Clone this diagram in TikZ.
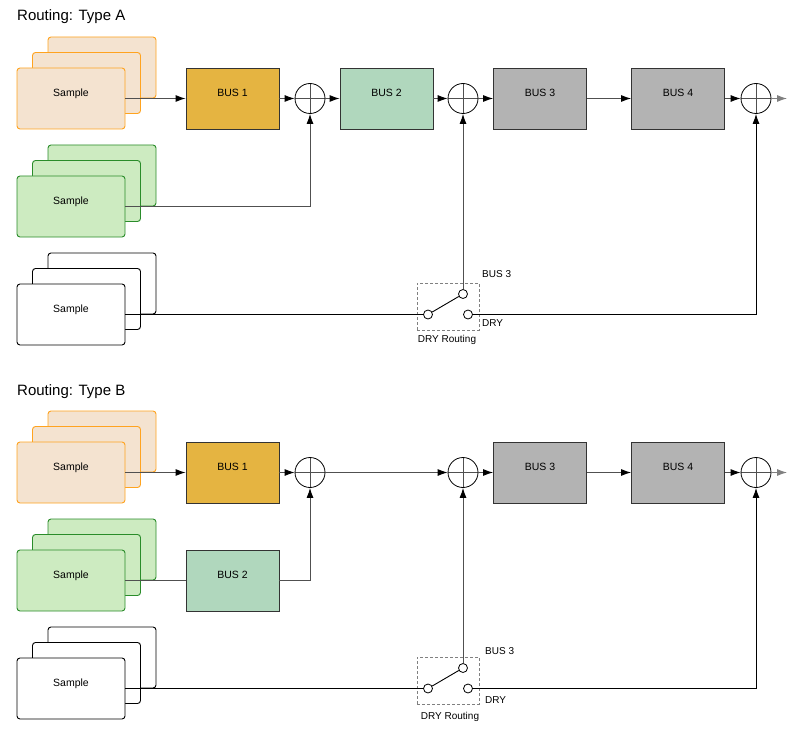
\documentclass[tikz,border=0pt]{standalone}
\usepackage{fontspec}
\setmainfont{Liberation Sans}
\usetikzlibrary{arrows.meta}
\definecolor{orfill}{HTML}{F4E3D0}
\definecolor{ordraw}{HTML}{FFA31F}
\definecolor{grfill}{HTML}{CDEBC1}
\definecolor{grdraw}{HTML}{2A8C2A}
\definecolor{busone}{HTML}{E5B441}
\definecolor{bustwo}{HTML}{B0D7BD}
\definecolor{busgray}{HTML}{B3B3B3}
\definecolor{conn}{HTML}{505050}
\definecolor{bord}{HTML}{333333}
\begin{document}
\begin{tikzpicture}[x=1pt,y=-1pt,
 lbl/.style={font=\fontsize{10.5}{12}\selectfont,text height=8pt,text depth=12pt},
 card/.style={rectangle,rounded corners=3pt,minimum width=108pt,minimum height=61pt,inner sep=0pt,line width=0.9pt,lbl},
 ocard/.style={card,fill=orfill,draw=ordraw},
 gcard/.style={card,fill=grfill,draw=grdraw},
 wcard/.style={card,fill=white,draw=black},
 bus/.style={rectangle,minimum width=93pt,minimum height=61pt,inner sep=0pt,draw=bord,line width=0.9pt,lbl},
 sum/.style={circle,draw=black,minimum size=30pt,inner sep=0pt,line width=0.8pt,
   path picture={\draw[conn,line width=0.6pt] (path picture bounding box.north) -- (path picture bounding box.south) (path picture bounding box.west) -- (path picture bounding box.east);}},
 contact/.style={circle,draw=black,fill=white,minimum size=9pt,inner sep=0pt,line width=0.8pt},
 wire/.style={draw=conn,line width=0.9pt},
 arr/.style={wire,-{Latex[length=10pt,width=7pt,color=black]}},
 outarr/.style={draw=gray,line width=0.9pt,-{Latex[length=10pt,width=7pt]}},
 small/.style={font=\fontsize{10}{12}\selectfont,inner sep=0pt},
 title/.style={font=\fontsize{15}{18}\selectfont,anchor=base west,inner sep=0pt},
 swbox/.style={draw=gray,dashed,dash pattern=on 3pt off 2pt,line width=0.8pt}
]
\useasboundingbox (0,0) rectangle (798,741);

% ================= Type A =================
\node[title] (tA) at (17,21) {Routing: Type A};

\node[ocard] (oA3) at (102,67.5) {};
\node[ocard] (oA2) at (86.5,83) {};
\node[ocard] (oA1) at (71,98.5) {Sample};

\node[gcard] (gA3) at (102,175.5) {};
\node[gcard] (gA2) at (86.5,191) {};
\node[gcard] (gA1) at (71,206.5) {Sample};

\node[wcard] (wA3) at (102,283.5) {};
\node[wcard] (wA2) at (86.5,299) {};
\node[wcard] (wA1) at (71,314.5) {Sample};

\node[bus,fill=busone] (bA1) at (232.5,98.5) {BUS 1};
\node[bus,fill=bustwo] (bA2) at (386.5,98.5) {BUS 2};
\node[bus,fill=busgray] (bA3) at (540,98.5) {BUS 3};
\node[bus,fill=busgray] (bA4) at (678,98.5) {BUS 4};

\node[sum] (sA1) at (310,98.5) {};
\node[sum] (sA2) at (463,98.5) {};
\node[sum] (sA3) at (756,98.5) {};
\coordinate (outA) at (787,98.5);

\node[swbox,minimum width=62pt,minimum height=47pt,inner sep=0pt] (swA) at (448,306.5) {};
\node[contact] (swAL) at (428,314.5) {};
\node[contact] (swAU) at (463,294) {};
\node[contact] (swAD) at (468,314.5) {};
\node[small,anchor=west] (lA1) at (482,274) {BUS 3};
\node[small,anchor=west] (lA2) at (482,323) {DRY};
\node[small] (lA3) at (447,340) {DRY Routing};

\draw[arr] (oA1.east) -- (bA1.west);
\draw[arr] (bA1.east) -- (sA1.west);
\draw[arr] (sA1.east) -- (bA2.west);
\draw[arr] (bA2.east) -- (sA2.west);
\draw[arr] (sA2.east) -- (bA3.west);
\draw[arr] (bA3.east) -- (bA4.west);
\draw[arr] (bA4.east) -- (sA3.west);
\draw[outarr] (sA3.east) -- (outA);
\draw[arr] (gA1.east) -| (sA1.south);
\draw[line width=0.9pt,black] (wA1.east) -- (swAL.west);
\draw[line width=0.9pt,black] (swAL) -- (swAU);
\draw[arr] (swAU.north) -- (sA2.south);
\draw[line width=0.9pt,black,-{Latex[length=10pt,width=7pt]}] (swAD.east) -| (sA3.south);

% ================= Type B =================
\node[title] (tB) at (17,395) {Routing: Type B};

\node[ocard] (oB3) at (102,441.5) {};
\node[ocard] (oB2) at (86.5,457) {};
\node[ocard] (oB1) at (71,472.5) {Sample};

\node[gcard] (gB3) at (102,549.5) {};
\node[gcard] (gB2) at (86.5,565) {};
\node[gcard] (gB1) at (71,580.5) {Sample};

\node[wcard] (wB3) at (102,657.5) {};
\node[wcard] (wB2) at (86.5,673) {};
\node[wcard] (wB1) at (71,688.5) {Sample};

\node[bus,fill=busone] (bB1) at (232.5,472.5) {BUS 1};
\node[bus,fill=bustwo] (bB2) at (232.5,580.5) {BUS 2};
\node[bus,fill=busgray] (bB3) at (540,472.5) {BUS 3};
\node[bus,fill=busgray] (bB4) at (678,472.5) {BUS 4};

\node[sum] (sB1) at (310,472.5) {};
\node[sum] (sB2) at (463,472.5) {};
\node[sum] (sB3) at (756,472.5) {};
\coordinate (outB) at (787,472.5);

\node[swbox,minimum width=62pt,minimum height=47pt,inner sep=0pt] (swB) at (448,680.5) {};
\node[contact] (swBL) at (428,688.5) {};
\node[contact] (swBU) at (463,668) {};
\node[contact] (swBD) at (468,688.5) {};
\node[small,anchor=west] (lB1) at (485,651) {BUS 3};
\node[small,anchor=west] (lB2) at (485,700) {DRY};
\node[small] (lB3) at (450,717) {DRY Routing};

\draw[arr] (oB1.east) -- (bB1.west);
\draw[arr] (bB1.east) -- (sB1.west);
\draw[arr] (sB1.east) -- (sB2.west);
\draw[arr] (sB2.east) -- (bB3.west);
\draw[arr] (bB3.east) -- (bB4.west);
\draw[arr] (bB4.east) -- (sB3.west);
\draw[outarr] (sB3.east) -- (outB);
\draw[wire] (gB1.east) -- (bB2.west);
\draw[arr] (bB2.east) -| (sB1.south);
\draw[line width=0.9pt,black] (wB1.east) -- (swBL.west);
\draw[line width=0.9pt,black] (swBL) -- (swBU);
\draw[arr] (swBU.north) -- (sB2.south);
\draw[line width=0.9pt,black,-{Latex[length=10pt,width=7pt]}] (swBD.east) -| (sB3.south);
\end{tikzpicture}
\end{document}
